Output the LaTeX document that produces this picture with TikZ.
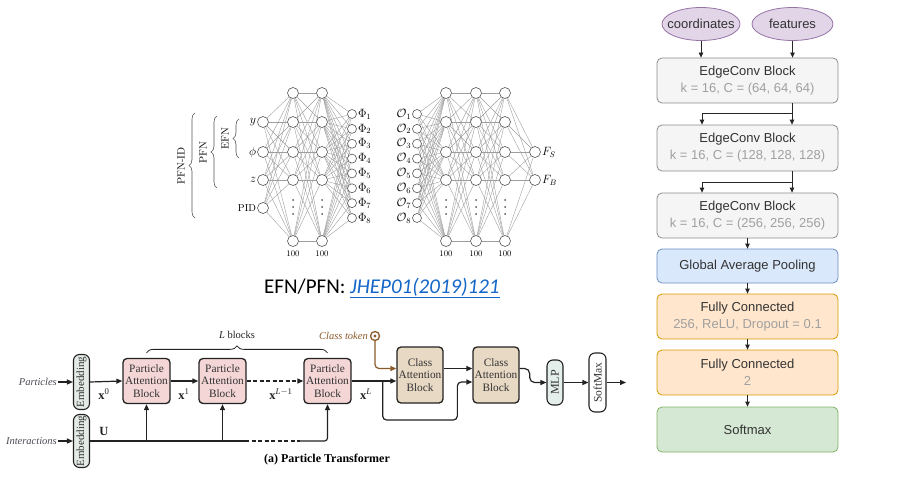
\documentclass[tikz,border=0pt]{standalone}
\usepackage{fontspec}
\usepackage{graphicx}
\newfontfamily\tms{Liberation Serif}
\newfontfamily\arl{Liberation Sans}
\newfontfamily\clb{Carlito}
\usetikzlibrary{arrows.meta,decorations.pathreplacing,calc,shapes.geometric,backgrounds}
\definecolor{nnd}{HTML}{555555}
\definecolor{nnl}{HTML}{9E9E9E}
\definecolor{ecf}{HTML}{F5F5F5}
\definecolor{ecd}{HTML}{8C8C8C}
\definecolor{gapf}{HTML}{DAE8FC}
\definecolor{gapd}{HTML}{6C8EBF}
\definecolor{fcf}{HTML}{FFE6CC}
\definecolor{fcd}{HTML}{D79B00}
\definecolor{smf}{HTML}{D5E8D4}
\definecolor{smd}{HTML}{82B366}
\definecolor{elf}{HTML}{E1D5E7}
\definecolor{eld}{HTML}{9673A6}
\definecolor{rtc}{HTML}{333333}
\definecolor{rsc}{HTML}{A0A0A0}
\definecolor{pd}{HTML}{222222}
\definecolor{pabf}{HTML}{F5D6D6}
\definecolor{cabf}{HTML}{E8D9C5}
\definecolor{embf}{HTML}{E4EBE6}
\definecolor{mlpf}{HTML}{E4EEEA}
\definecolor{ptc}{HTML}{333333}
\definecolor{lblc}{HTML}{4A4A55}
\definecolor{tokc}{HTML}{8B5A2B}
\definecolor{linkc}{HTML}{1466C8}
\begin{document}
\begin{tikzpicture}[x=1pt,y=-1pt,
  nn/.style={circle,draw=nnd,fill=white,inner sep=0pt,minimum size=11pt,line width=0.6pt},
  nno/.style={nn,minimum size=9pt},
  conn/.style={draw=nnl,line width=0.4pt},
  nnlab/.style={font=\fontsize{11.5}{13}\selectfont,inner sep=1pt},
  brc/.style={decorate,decoration={brace,amplitude=6pt},draw=nnd,line width=0.6pt},
  ell/.style={rectangle,minimum width=78pt,minimum height=33pt,inner sep=0pt,font=\arl\fontsize{13}{16}\selectfont,text=rtc},
  rbox/.style={rectangle,rounded corners=5pt,minimum width=181pt,minimum height=45pt,line width=0.8pt,align=center,inner sep=0pt,font=\arl\fontsize{13}{17}\selectfont,text=rtc},
  ebox/.style={rbox,draw=ecd,fill=ecf},
  rarr/.style={draw=black!85,line width=0.8pt,-{Triangle[length=5pt,width=4.5pt]}},
  rline/.style={draw=black!85,line width=0.8pt},
  pab/.style={rectangle,rounded corners=4pt,draw=pd,line width=1.3pt,fill=pabf,minimum width=47pt,minimum height=45pt,inner sep=0pt,align=center,font=\tms\fontsize{11.3}{12.5}\selectfont,text=ptc},
  cab/.style={pab,fill=cabf,minimum width=46pt,minimum height=56pt},
  emb/.style={rectangle,rounded corners=6pt,draw=pd,line width=1.1pt,fill=embf,minimum width=16pt,inner sep=0pt,font=\tms\fontsize{11}{12}\selectfont,text=ptc},
  parr/.style={draw=pd,line width=1.2pt,-{Triangle[length=6pt,width=5pt]}},
  pline/.style={draw=pd,line width=1.2pt},
  plab/.style={font=\tms\fontsize{12.5}{14}\selectfont,text=pd,inner sep=0pt},
  inlab/.style={font=\tms\itshape\fontsize{10.5}{12}\selectfont,text=lblc,inner sep=1pt}
]
\useasboundingbox (0,0) rectangle (909,484);

% ================= EFN / PFN network =================
\foreach \y [count=\i] in {122,152,180,208} {\node[nn] (a\i) at (263,\y) {};}
\foreach \y [count=\i] in {93,122,152,180,241} {
  \node[nn] (b\i) at (293,\y) {};
  \node[nn] (c\i) at (322,\y) {};
  \node[nn] (d\i) at (446,\y) {};
  \node[nn] (e\i) at (476,\y) {};
  \node[nn] (f\i) at (505,\y) {};
}
\foreach \i in {1,...,8} {
  \node[nno] (p\i) at (352,{114+14.857*(\i-1)}) {};
  \node[nnlab,anchor=west] at (p\i.east) {$\Phi_{\i}$};
  \node[nno] (o\i) at (417,{114+14.857*(\i-1)}) {};
  \node[nnlab,anchor=east] at (o\i.west) {$\mathcal{O}_{\i}$};
}
\node[nn] (fs) at (535,152) {};
\node[nn] (fb) at (535,180) {};
\node[nnlab,anchor=west] at (fs.east) {$F_S$};
\node[nnlab,anchor=west] at (fb.east) {$F_B$};
\node[nnlab,anchor=east] at (a1.west) {$y$};
\node[nnlab,anchor=east] at (a2.west) {$\phi$};
\node[nnlab,anchor=east] at (a3.west) {$z$};
\node[nnlab,anchor=east,font=\fontsize{10}{12}\selectfont] at (a4.west) {PID};
\foreach \x in {293,322,446,476,505} {
  \node[nnlab,font=\fontsize{8.5}{10}\selectfont] at (\x,254) {100};
  \foreach \y in {200,207,214} {\fill[nnd] (\x,\y) circle (1);}
}
\begin{scope}[on background layer]
  \foreach \i in {1,...,4} {\foreach \j in {1,...,5} {\draw[conn] (a\i) -- (b\j);}}
  \foreach \i in {1,...,5} {\foreach \j in {1,...,5} {
    \draw[conn] (b\i) -- (c\j);
    \draw[conn] (d\i) -- (e\j);
    \draw[conn] (e\i) -- (f\j);}}
  \foreach \i in {1,...,5} {\foreach \j in {1,...,8} {
    \draw[conn] (c\i) -- (p\j);
    \draw[conn] (o\j) -- (d\i);}}
  \foreach \i in {1,...,5} {\draw[conn] (f\i) -- (fs); \draw[conn] (f\i) -- (fb);}
\end{scope}
% braces
\draw[brc] (239,158) -- (239,119);
\node[nnlab,rotate=90,font=\fontsize{10.5}{12}\selectfont] at (225,139) {EFN};
\draw[brc] (217,188) -- (217,116);
\node[nnlab,rotate=90,font=\fontsize{10.5}{12}\selectfont] at (203,153) {PFN};
\draw[brc] (195,218) -- (195,113);
\node[nnlab,rotate=90,font=\fontsize{10.5}{12}\selectfont] at (181,166) {PFN-ID};

% caption
\node[anchor=west,inner sep=0pt,font=\clb\fontsize{21}{25}\selectfont] (efncap) at (264,288)
  {EFN/PFN: \textcolor{linkc}{\itshape\underline{JHEP01(2019)121}}};

% ================= ParticleNet =================
\draw[draw=eld,fill=elf,line width=0.8pt] (701,24) ellipse [x radius=39, y radius=16.5];
\draw[draw=eld,fill=elf,line width=0.8pt] (792.5,24) ellipse [x radius=40.5, y radius=16.5];
\node[ell] (crd) at (701,24) {coordinates};
\node[ell,minimum width=81pt] (fea) at (792.5,24) {features};
\node[ebox] (ec1) at (747.5,80.5) {EdgeConv Block\\{\color{rsc}k = 16, C = (64, 64, 64)}};
\node[ebox,minimum height=46pt] (ec2) at (747.5,148) {EdgeConv Block\\{\color{rsc}k = 16, C = (128, 128, 128)}};
\node[ebox] (ec3) at (747.5,215.5) {EdgeConv Block\\{\color{rsc}k = 16, C = (256, 256, 256)}};
\node[rbox,draw=gapd,fill=gapf,minimum height=34pt] (gap) at (747.5,266) {Global Average Pooling};
\node[rbox,draw=fcd,fill=fcf] (fc1) at (747.5,316.5) {Fully Connected\\{\color{rsc}256, ReLU, Dropout = 0.1}};
\node[rbox,draw=fcd,fill=fcf] (fc2) at (747.5,372.5) {Fully Connected\\{\color{rsc}2}};
\node[rbox,draw=smd,fill=smf] (smx) at (747.5,429.5) {Softmax};

\draw[rarr] (crd.south) -- (crd.south |- ec1.north);
\draw[rarr] (fea.south) -- (fea.south |- ec1.north);
\coordinate (j1) at (792,113);
\coordinate (j1l) at (702,113);
\draw[rline] (ec1.south -| j1) -- (j1);
\draw[rarr] (j1) -- (j1 |- ec2.north);
\draw[rarr] (j1) -- (j1l) -- (j1l |- ec2.north);
\coordinate (j2) at (792,182);
\coordinate (j2l) at (702,182);
\draw[rline] (ec2.south -| j2) -- (j2);
\draw[rarr] (j2) -- (j2 |- ec3.north);
\draw[rarr] (j2) -- (j2l) -- (j2l |- ec3.north);
\draw[rarr] (ec3.south) -- (gap.north);
\draw[rarr] (gap.south) -- (fc1.north);
\draw[rarr] (fc1.south) -- (fc2.north);
\draw[rarr] (fc2.south) -- (smx.north);

% ================= Particle Transformer =================
\node[emb,minimum height=55pt] (emb1) at (81.5,382) {\rotatebox{90}{Embedding}};
\node[emb,minimum height=53pt] (emb2) at (81.5,441) {\rotatebox{90}{Embedding}};
\node[inlab,anchor=east] (ptl) at (58,382) {Particles};
\node[inlab,anchor=east] (itl) at (58,441) {Interactions};
\node[pab] (pab1) at (146.5,381) {Particle\\Attention\\Block};
\node[pab] (pab2) at (222.5,381) {Particle\\Attention\\Block};
\node[pab] (pab3) at (327.5,381) {Particle\\Attention\\Block};
\node[cab] (cab1) at (420,375) {Class\\Attention\\Block};
\node[cab] (cab2) at (496,375) {Class\\Attention\\Block};
\node[emb,fill=mlpf,minimum height=45pt,font=\tms\fontsize{12}{14}\selectfont] (mlp) at (555,382.5) {\rotatebox{90}{MLP}};
\node[emb,fill=white,minimum width=17pt,minimum height=59pt,font=\tms\fontsize{11.5}{14}\selectfont] (smax) at (597.5,382.5) {\rotatebox{90}{SoftMax}};
\coordinate (outp) at (626,382.5);

\draw[parr] (ptl.east) -- (emb1.west);
\draw[parr] (itl.east) -- (emb2.west);
\draw[parr] (emb1.east) -- (pab1.west);
\draw[parr] (pab1.east) -- (pab2.west);
\draw[parr,dash pattern=on 4pt off 2.5pt] (pab2.east) -- (pab3.west);
\draw[parr] (pab3.east) -- (pab3.east -| cab1.west);
\node[plab] at (104,394) {\textbf{x}\textsuperscript{0}};
\node[plab] at (184,394) {\textbf{x}\textsuperscript{1}};
\node[plab] at (281,394) {\textbf{x}\textsuperscript{\textit{L}$-$1}};
\node[plab] at (366,394) {\textbf{x}\textsuperscript{\textit{L}}};
\node[plab] at (104,431) {\textbf{U}};

% U line
\coordinate (u1) at (245,441);
\coordinate (u2) at (300,441);
\draw[pline] (emb2.east) -- (u1);
\draw[pline,dash pattern=on 4pt off 2.5pt] (u1) -- (u2);
\draw[parr,rounded corners=3pt] (u2) -| (pab3.south);
\draw[parr] (pab1.south |- u1) -- (pab1.south);
\draw[parr] (pab2.south |- u1) -- (pab2.south);

% L blocks brace
\draw[decorate,decoration={brace,amplitude=7pt},draw=pd,line width=0.8pt]
  ($(pab1.north)+(0,-5)$) -- ($(pab3.north)+(0,-5)$);
\node[plab,font=\tms\fontsize{10.5}{12}\selectfont] at (237,335) {\textit{L} blocks};

% class token
\node[circle,draw=tokc,line width=1.3pt,minimum size=9pt,inner sep=0pt] (tok) at (375,336) {};
\fill[tokc] (tok.center) circle (1.6);
\node[inlab,text=tokc,anchor=east] at (369,336) {Class token};
\draw[draw=tokc,line width=1.2pt,-{Triangle[length=6pt,width=5pt]},rounded corners=4pt]
  (tok.south) |- ($(cab1.west)+(0,-6.5)$);

% x^L branch to cab2
\coordinate (xl) at ($(pab3.east)+(31,0)$);
\draw[parr,rounded corners=4pt] (xl) -- ++(0,39) -| ($(cab2.west)+(-15,7)$) -- ($(cab2.west)+(0,7)$);
\draw[parr] ($(cab1.east)+(0,-6.5)$) -- ($(cab2.west)+(0,-6.5)$);
\draw[parr,rounded corners=5pt] ($(cab2.east)+(0,-6.5)$) -- ++(10,0) |- (mlp.west);
\draw[parr] (mlp.east) -- (smax.west);
\draw[parr] (smax.east) -- (outp);

\node[font=\tms\bfseries\fontsize{12}{14}\selectfont,inner sep=0pt] (ptcap) at (327,460) {(a) Particle Transformer};
\end{tikzpicture}
\end{document}
